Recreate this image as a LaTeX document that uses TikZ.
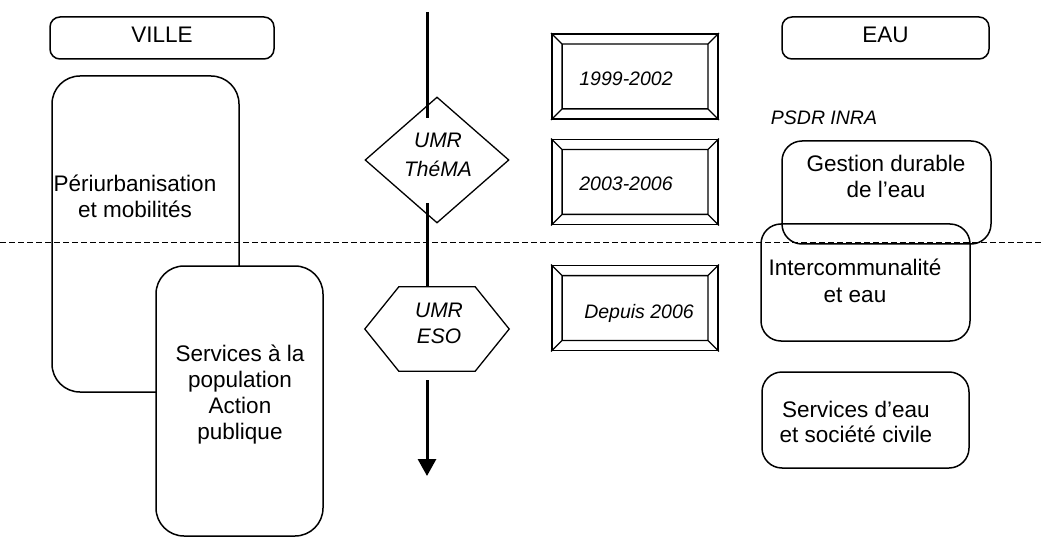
\documentclass[tikz,border=0pt]{standalone}
\usepackage{fontspec}
\setmainfont{Liberation Sans}
\usetikzlibrary{shapes.geometric,arrows.meta,calc}
\newcommand\bevelin[1]{%
  \draw[line width=1.3pt] ($(#1.north west)+(11,11)$) rectangle ($(#1.south east)+(-11,-11)$)
    (#1.north west) -- ++(11,11) (#1.north east) -- ++(-11,11)
    (#1.south west) -- ++(11,-11) (#1.south east) -- ++(-11,-11);}
\begin{document}
\begin{tikzpicture}[x=1pt,y=-1pt,
  lbl/.style={font=\fontsize{22.5}{26}\selectfont, align=center, inner sep=0},
  ital/.style={font=\fontsize{19.5}{27}\selectfont\itshape, align=center, inner sep=0},
  rbox/.style={draw, line width=1.5pt, rounded corners=#1, inner sep=0},
  bevelbox/.style={draw, line width=1.8pt, fill=white, inner sep=0, minimum width=166pt, minimum height=85pt},
  axisline/.style={line width=3pt},
  shapeline/.style={line width=1.3pt}
]
\useasboundingbox[fill=white] (0,0) rectangle (1043,537);

% header boxes
\node[rbox=10pt, minimum width=224pt, minimum height=42pt] (ville) at (162,38) {};
\node[lbl] (villet) at (162,35) {VILLE};
\node[rbox=10pt, minimum width=207pt, minimum height=42pt] (eau) at (885.5,38) {};
\node[lbl] (eaut) at (885.5,35) {EAU};

% left boxes
\node[rbox=28pt, minimum width=187pt, minimum height=316pt] (peri) at (145.5,234) {};
\node[lbl] (perit) at (135,196) {Périurbanisation\\et mobilités};

% dashed separator
\coordinate (dl) at (0,243);
\coordinate (dr) at (1043,243);
\draw[dash pattern=on 6pt off 3pt, line width=1pt] (dl) -- (dr);

\node[rbox=28pt, fill=white, minimum width=167pt, minimum height=270pt] (serv) at (239.5,401) {};
\node[lbl] (servt) at (240,395) {Services à la\\population\\Action\\publique};

% right boxes
\node[rbox=20pt, minimum width=209pt, minimum height=103pt] (gest) at (886.5,192.5) {};
\node[lbl] (gestt) at (886,176) {Gestion durable\\de l’eau};
\node[rbox=20pt, minimum width=209pt, minimum height=117pt] (inter) at (865.5,282.5) {};
\node[lbl, font=\fontsize{22.5}{27}\selectfont] (intert) at (855,281) {Intercommunalité\\et eau};
\node[rbox=20pt, minimum width=207pt, minimum height=96pt] (seau) at (865.5,420) {};
\node[lbl, font=\fontsize{22.5}{25}\selectfont] (seaut) at (856,421.5) {Services d’eau\\et société civile};
\node[ital] (psdr) at (824,117.5) {PSDR INRA};

% bevel boxes
\node[bevelbox] (b1) at (635,76.5) {};
\bevelin{b1}
\node[ital] (b1t) at (626,78.5) {1999-2002};
\node[bevelbox] (b2) at (635,182) {};
\bevelin{b2}
\node[ital] (b2t) at (626,183.5) {2003-2006};
\node[bevelbox] (b3) at (635,308) {};
\bevelin{b3}
\node[ital] (b3t) at (639,313.5) {Depuis 2006};

% UMR shapes
\node[draw, diamond, shapeline, fill=white, minimum width=144pt, minimum height=126pt, inner sep=0] (thema) at (437,160) {};
\node[ital, font=\fontsize{21}{29}\selectfont\itshape] (themat) at (438,154.5) {UMR\\ThéMA};
\node[minimum width=144pt, minimum height=84pt, inner sep=0] (eso) at (437,329) {};
\draw[shapeline] (eso.west) -- ($(eso.north west)+(34,0)$) -- ($(eso.north east)+(-34,0)$)
  -- (eso.east) -- ($(eso.south east)+(-34,0)$) -- ($(eso.south west)+(34,0)$) -- cycle;
\node[ital, font=\fontsize{21}{26}\selectfont\itshape] (esot) at (439,323.5) {UMR\\ESO};

% time axis
\coordinate (a0) at (427,12);
\coordinate (a1) at (427,118);
\coordinate (a2) at (427,203);
\coordinate (a3) at (427,287);
\coordinate (a4) at (427,380);
\coordinate (a5) at (427,476);
\draw[axisline] (a0) -- (a1);
\draw[axisline] (a2) -- (a3);
\draw[axisline, -{Triangle[width=18pt,length=17pt]}] (a4) -- (a5);
\end{tikzpicture}
\end{document}
